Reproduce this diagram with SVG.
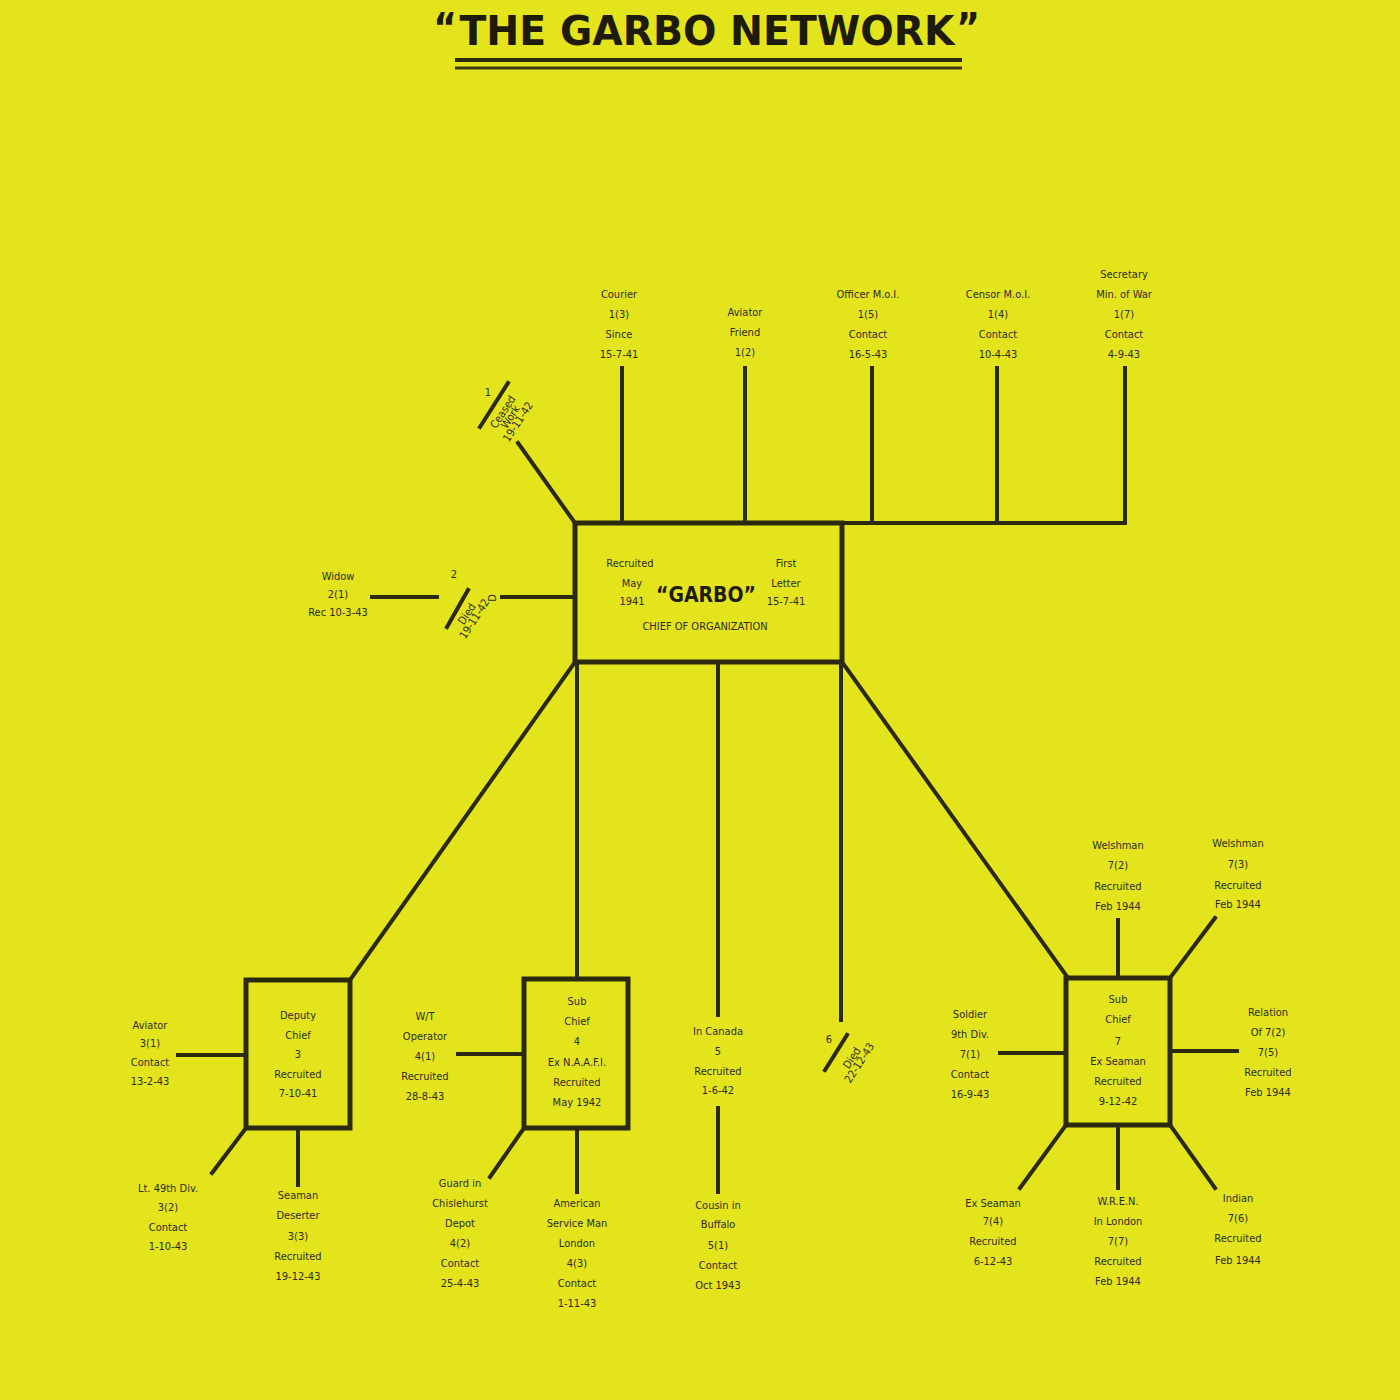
<svg xmlns="http://www.w3.org/2000/svg" width="1400" height="1400" viewBox="0 0 1400 1400">
<style>
.ln{stroke:#2b2a0e;stroke-width:4;fill:none;stroke-linecap:square}
.bx{stroke:#2b2a0e;stroke-width:5;fill:none}
.t{font-family:"DejaVu Sans Condensed","Liberation Sans Narrow",sans-serif;font-size:11px;fill:#2e2c10;text-anchor:middle}
.title{font-family:"DejaVu Sans Condensed","DejaVu Sans",sans-serif;font-size:40px;font-weight:bold;fill:#1e1c08;text-anchor:middle}
</style>
<rect width="1400" height="1400" fill="#e4e41c"/>
<g id="title">
<text class="title" x="707" y="45" textLength="495" lengthAdjust="spacingAndGlyphs">THE  GARBO  NETWORK</text>
<text class="title" x="445" y="42" font-size="28">“</text>
<text class="title" x="968" y="42" font-size="28">”</text>
<line x1="455" y1="60" x2="962" y2="60" stroke="#2b2a0e" stroke-width="4"/>
<line x1="455" y1="68" x2="962" y2="68" stroke="#3a3812" stroke-width="3"/>
</g>
<g id="connectors">
<path class="ln" d="M842 523H1125M622 368V523M745 368V523M872 368V523M997 368V523M1125 368V523"/>
<path class="ln" d="M518 443L575 523"/>
<path class="ln" d="M372 597H437M502 597H575"/>
<path class="ln" d="M575 662L350 980M577 662V979M718 662V1015M718 1108V1192M841 662V1020M842 662L1068 978"/>
<path class="ln" d="M178 1055H246M246 1128L212 1173M298 1128V1185"/>
<path class="ln" d="M458 1054H524M524 1128L490 1177M577 1128V1192"/>
<path class="ln" d="M1118 920V978M1170 978L1215 918M1170 1051H1237M1000 1053H1066M1066 1125L1020 1188M1118 1125V1188M1170 1125L1215 1188"/>
<path class="ln" d="M508 383L480 427M468 590L447 627M847 1035L825 1070"/>
</g>
<g id="garbo">
<rect class="bx" x="575" y="523" width="267" height="139"/>
<text class="t" x="630" y="567">Recruited</text>
<text class="t" x="632" y="587">May</text>
<text class="t" x="632" y="605">1941</text>
<text class="t" x="786" y="567">First</text>
<text class="t" x="786" y="587">Letter</text>
<text class="t" x="786" y="605">15-7-41</text>
<text x="706" y="602" font-family="DejaVu Sans Condensed,DejaVu Sans,sans-serif" font-size="21" font-weight="bold" fill="#1e1c08" text-anchor="middle">“GARBO”</text>
<text class="t" x="705" y="630" font-size="12">CHIEF OF ORGANIZATION</text>
</g>
<g id="courier"><text class="t"><tspan x="619" y="298">Courier</tspan><tspan x="619" y="318">1(3)</tspan><tspan x="619" y="338">Since</tspan><tspan x="619" y="358">15-7-41</tspan></text></g>
<g id="aviator-friend"><text class="t"><tspan x="745" y="316">Aviator</tspan><tspan x="745" y="336">Friend</tspan><tspan x="745" y="356">1(2)</tspan></text></g>
<g id="officer"><text class="t"><tspan x="868" y="298">Officer M.o.I.</tspan><tspan x="868" y="318">1(5)</tspan><tspan x="868" y="338">Contact</tspan><tspan x="868" y="358">16-5-43</tspan></text></g>
<g id="censor"><text class="t"><tspan x="998" y="298">Censor M.o.I.</tspan><tspan x="998" y="318">1(4)</tspan><tspan x="998" y="338">Contact</tspan><tspan x="998" y="358">10-4-43</tspan></text></g>
<g id="secretary"><text class="t"><tspan x="1124" y="278">Secretary</tspan><tspan x="1124" y="298">Min. of War</tspan><tspan x="1124" y="318">1(7)</tspan><tspan x="1124" y="338">Contact</tspan><tspan x="1124" y="358">4-9-43</tspan></text></g>
<g id="agent1">
<text class="t" x="488" y="396" font-size="10">1</text>
<text class="t" transform="translate(506,414) rotate(-57)" font-size="8"><tspan x="0" y="0">Ceased</tspan><tspan x="0" y="9">Work</tspan><tspan x="0" y="18">19-11-42</tspan></text>
</g>
<g id="widow">
<text class="t"><tspan x="338" y="580">Widow</tspan><tspan x="338" y="598">2(1)</tspan><tspan x="338" y="616">Rec 10-3-43</tspan></text>
<text class="t" x="454" y="578" font-size="10">2</text>
<text class="t" transform="translate(470,616) rotate(-57)" font-size="8"><tspan x="0" y="0">Died</tspan><tspan x="0" y="9">19-11-42</tspan></text>
<text class="t" transform="translate(496,598) rotate(-90)" font-size="9">D</text>
</g>
<g id="deputy">
<rect class="bx" x="246" y="980" width="104" height="148"/>
<text class="t"><tspan x="298" y="1019">Deputy</tspan><tspan x="298" y="1039">Chief</tspan><tspan x="298" y="1058">3</tspan><tspan x="298" y="1078">Recruited</tspan><tspan x="298" y="1097">7-10-41</tspan></text>
</g>
<g id="aviator3"><text class="t"><tspan x="150" y="1029">Aviator</tspan><tspan x="150" y="1047">3(1)</tspan><tspan x="150" y="1066">Contact</tspan><tspan x="150" y="1085">13-2-43</tspan></text></g>
<g id="lt49"><text class="t"><tspan x="168" y="1192">Lt. 49th Div.</tspan><tspan x="168" y="1211">3(2)</tspan><tspan x="168" y="1231">Contact</tspan><tspan x="168" y="1250">1-10-43</tspan></text></g>
<g id="seaman-deserter"><text class="t"><tspan x="298" y="1199">Seaman</tspan><tspan x="298" y="1219">Deserter</tspan><tspan x="298" y="1240">3(3)</tspan><tspan x="298" y="1260">Recruited</tspan><tspan x="298" y="1280">19-12-43</tspan></text></g>
<g id="subchief4">
<rect class="bx" x="524" y="979" width="104" height="149"/>
<text class="t"><tspan x="577" y="1005">Sub</tspan><tspan x="577" y="1025">Chief</tspan><tspan x="577" y="1045">4</tspan><tspan x="577" y="1066">Ex N.A.A.F.I.</tspan><tspan x="577" y="1086">Recruited</tspan><tspan x="577" y="1106">May 1942</tspan></text>
</g>
<g id="wt-operator"><text class="t"><tspan x="425" y="1020">W/T</tspan><tspan x="425" y="1040">Operator</tspan><tspan x="425" y="1060">4(1)</tspan><tspan x="425" y="1080">Recruited</tspan><tspan x="425" y="1100">28-8-43</tspan></text></g>
<g id="guard"><text class="t"><tspan x="460" y="1187">Guard in</tspan><tspan x="460" y="1207">Chislehurst</tspan><tspan x="460" y="1227">Depot</tspan><tspan x="460" y="1247">4(2)</tspan><tspan x="460" y="1267">Contact</tspan><tspan x="460" y="1287">25-4-43</tspan></text></g>
<g id="american"><text class="t"><tspan x="577" y="1207">American</tspan><tspan x="577" y="1227">Service Man</tspan><tspan x="577" y="1247">London</tspan><tspan x="577" y="1267">4(3)</tspan><tspan x="577" y="1287">Contact</tspan><tspan x="577" y="1307">1-11-43</tspan></text></g>
<g id="canada"><text class="t"><tspan x="718" y="1035">In Canada</tspan><tspan x="718" y="1055">5</tspan><tspan x="718" y="1075">Recruited</tspan><tspan x="718" y="1094">1-6-42</tspan></text></g>
<g id="cousin"><text class="t"><tspan x="718" y="1209">Cousin in</tspan><tspan x="718" y="1228">Buffalo</tspan><tspan x="718" y="1249">5(1)</tspan><tspan x="718" y="1269">Contact</tspan><tspan x="718" y="1289">Oct 1943</tspan></text></g>
<g id="agent6">
<text class="t" x="829" y="1043" font-size="10">6</text>
<text class="t" transform="translate(855,1060) rotate(-57)" font-size="8"><tspan x="0" y="0">Died</tspan><tspan x="0" y="9">22-12-43</tspan></text>
</g>
<g id="subchief7">
<rect class="bx" x="1066" y="978" width="104" height="147"/>
<text class="t"><tspan x="1118" y="1003">Sub</tspan><tspan x="1118" y="1023">Chief</tspan><tspan x="1118" y="1045">7</tspan><tspan x="1118" y="1065">Ex Seaman</tspan><tspan x="1118" y="1085">Recruited</tspan><tspan x="1118" y="1105">9-12-42</tspan></text>
</g>
<g id="welshman2"><text class="t"><tspan x="1118" y="849">Welshman</tspan><tspan x="1118" y="869">7(2)</tspan><tspan x="1118" y="890">Recruited</tspan><tspan x="1118" y="910">Feb 1944</tspan></text></g>
<g id="welshman3"><text class="t"><tspan x="1238" y="847">Welshman</tspan><tspan x="1238" y="868">7(3)</tspan><tspan x="1238" y="889">Recruited</tspan><tspan x="1238" y="908">Feb 1944</tspan></text></g>
<g id="relation"><text class="t"><tspan x="1268" y="1016">Relation</tspan><tspan x="1268" y="1036">Of 7(2)</tspan><tspan x="1268" y="1056">7(5)</tspan><tspan x="1268" y="1076">Recruited</tspan><tspan x="1268" y="1096">Feb 1944</tspan></text></g>
<g id="soldier"><text class="t"><tspan x="970" y="1018">Soldier</tspan><tspan x="970" y="1038">9th Div.</tspan><tspan x="970" y="1058">7(1)</tspan><tspan x="970" y="1078">Contact</tspan><tspan x="970" y="1098">16-9-43</tspan></text></g>
<g id="ex-seaman"><text class="t"><tspan x="993" y="1207">Ex Seaman</tspan><tspan x="993" y="1225">7(4)</tspan><tspan x="993" y="1245">Recruited</tspan><tspan x="993" y="1265">6-12-43</tspan></text></g>
<g id="wren"><text class="t"><tspan x="1118" y="1205">W.R.E.N.</tspan><tspan x="1118" y="1225">In London</tspan><tspan x="1118" y="1245">7(7)</tspan><tspan x="1118" y="1265">Recruited</tspan><tspan x="1118" y="1285">Feb 1944</tspan></text></g>
<g id="indian"><text class="t"><tspan x="1238" y="1202">Indian</tspan><tspan x="1238" y="1222">7(6)</tspan><tspan x="1238" y="1242">Recruited</tspan><tspan x="1238" y="1264">Feb 1944</tspan></text></g>
</svg>
